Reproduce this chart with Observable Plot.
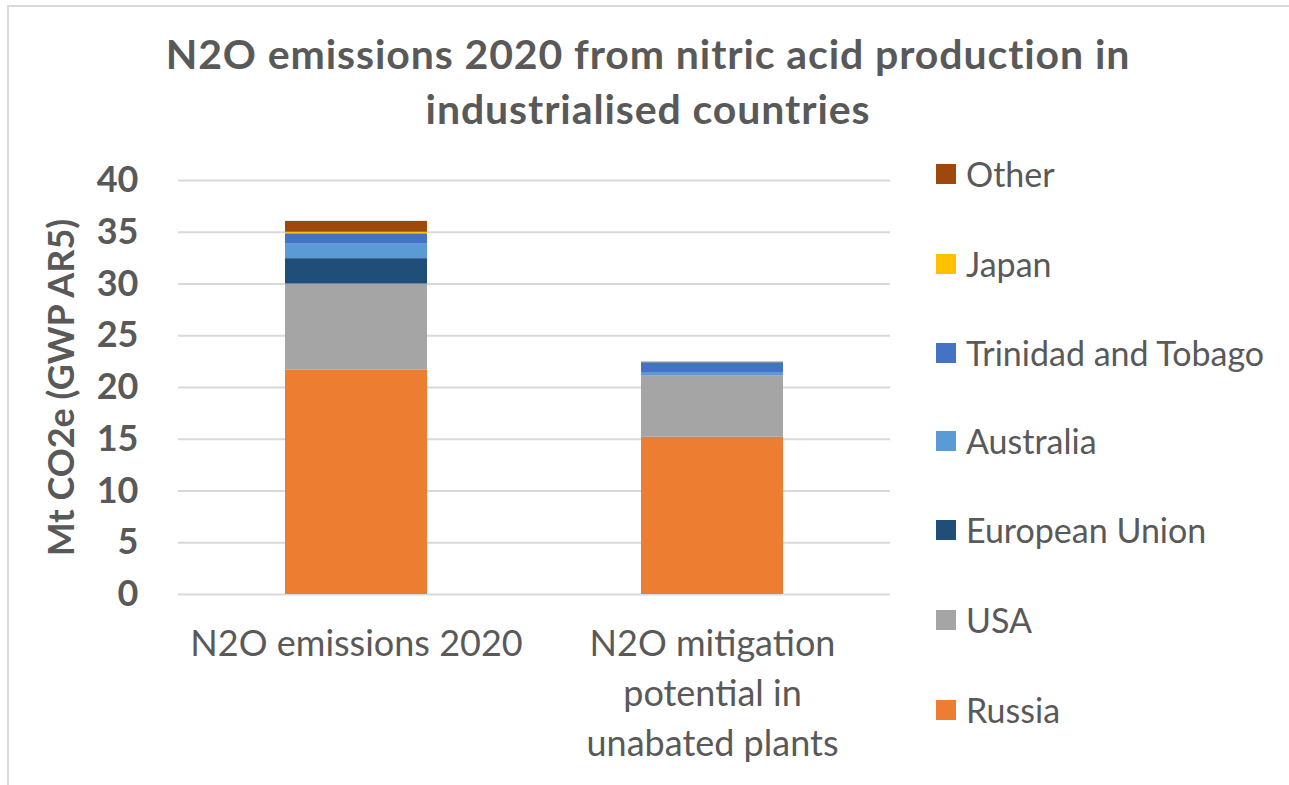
<!DOCTYPE html>
<html>
<head>
<meta charset="utf-8">
<script src="https://cdn.jsdelivr.net/npm/d3@7"></script>
<script src="https://cdn.jsdelivr.net/npm/@observablehq/plot@0.6"></script>
<style>
  html, body { margin: 0; padding: 0; background: #fff; }
  #wrap { position: relative; width: 1289px; height: 785px; overflow: hidden; font-family: Lato, "Open Sans", sans-serif; color: #595959; }
  #border { position: absolute; left: 7px; top: 5px; right: -20px; bottom: -20px; border-top: 2px solid #d9d9d9; border-left: 2px solid #d9d9d9; }
  #title { position: absolute; left: 0; top: 26px; width: 1296px; text-align: center; font-weight: bold; font-size: 41px; letter-spacing: 0.9px; line-height: 55px; color: #595959; }
  #chart { position: absolute; left: 0; top: 0; }
  #legend { position: absolute; left: 936px; top: 0; }
  .li { position: absolute; left: 0; white-space: nowrap; font-size: 34px; line-height: 40px; height: 40px; }
  .sw { position: absolute; left: 0; top: 10px; width: 20px; height: 20px; }
  .lt { position: absolute; left: 30px; top: 0; }
</style>
</head>
<body>
<div id="wrap">
  <div id="border"></div>
  <div id="chart"></div>
  <div id="title">N2O emissions 2020 from nitric acid production in<br>industrialised countries</div>
  <div id="legend"></div>
</div>
<script>
// ---- data ----
const categories = ["N2O emissions 2020", "N2O mitigation potential in unabated plants"];
const categoryLabels = ["N2O emissions 2020", "N2O mitigation\npotential in\nunabated plants"];
const countries = ["Russia", "USA", "European Union", "Australia", "Trinidad and Tobago", "Japan", "Other"];
const colors = ["#ED7D31", "#A5A5A5", "#1F4E79", "#5B9BD5", "#4472C4", "#FFC000", "#9E480E"];
const russia = [21.7, 15.2];
const usa = [8.3, 5.95];
const europeanUnion = [2.45, 0];
const australia = [1.4, 0.3];
const trinidad = [1.0, 0.95];
const japan = [0.15, 0.1];
const other = [1.05, 0];
const yTicks = [0, 5, 10, 15, 20, 25, 30, 35, 40];

const series = [russia, usa, europeanUnion, australia, trinidad, japan, other];
const rows = [];
countries.forEach((c, i) => {
  categories.forEach((cat, j) => {
    rows.push({category: cat, country: c, value: series[i][j]});
  });
});

const labelOf = new Map(categories.map((c, i) => [c, categoryLabels[i]]));

const plot = Plot.plot({
  width: 1289,
  height: 785,
  marginLeft: 178,
  marginRight: 399,
  marginTop: 180,
  marginBottom: 191,
  style: {fontFamily: "Lato, 'Open Sans', sans-serif", color: "#595959", background: "transparent"},
  x: {domain: categories, paddingInner: 0.6, paddingOuter: 0.3, label: null},
  y: {domain: [0, 40], label: null},
  color: {domain: countries, range: colors},
  marks: [
    Plot.ruleY(yTicks, {stroke: "#d9d9d9", strokeWidth: 2, strokeOpacity: 1}),
    Plot.barY(rows, {x: "category", y: "value", fill: "country", order: countries}),
    Plot.axisY({
      ticks: yTicks, tickSize: 0, tickPadding: 40,
      fontSize: 36, fontWeight: "bold", fill: "#595959",
      label: "Mt CO2e (GWP AR5)", labelAnchor: "center", labelOffset: 130, labelArrow: "none"
    }),
    Plot.axisX({
      tickSize: 0, tickPadding: 26, fontSize: 36, fill: "#595959",
      lineHeight: 1.39, lineAnchor: "top",
      tickFormat: d => labelOf.get(d), label: null
    })
  ]
});
// bolden / size the y axis label
plot.querySelectorAll("g[aria-label='y-axis label'] text").forEach(t => {
  t.setAttribute("font-size", "36");
  t.setAttribute("font-weight", "bold");
  t.style.fontSize = "36px";
  t.style.fontWeight = "bold";
});
document.getElementById("chart").appendChild(plot);

// legend (top to bottom: reverse order)
const legend = document.getElementById("legend");
const legendY = [174, 264, 353, 441, 530, 620, 710];
countries.slice().reverse().forEach((c, k) => {
  const i = countries.indexOf(c);
  const li = document.createElement("div");
  li.className = "li";
  li.style.top = (legendY[k] - 20) + "px";
  li.innerHTML = `<div class="sw" style="background:${colors[i]}"></div><div class="lt">${c}</div>`;
  legend.appendChild(li);
});
</script>
</body>
</html>
